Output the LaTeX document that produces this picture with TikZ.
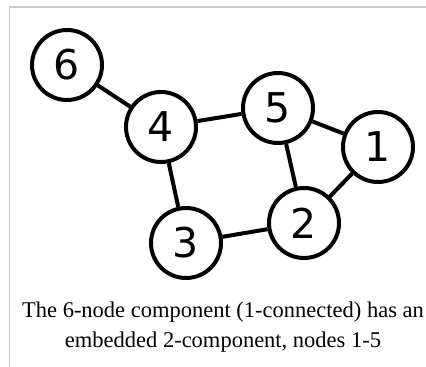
\documentclass[tikz,border=0pt]{standalone}
\usepackage{fontspec}
\setmainfont{Liberation Serif}
\newfontfamily\digitfont{DejaVu Sans}
\usepackage{xcolor}
\usepackage{tikz}
\definecolor{thumbline}{HTML}{C8CCD1}

\tikzset{
  vertex/.style={circle, draw=black, line width=4pt, fill=white,
    minimum size=70pt, inner sep=0pt, font=\digitfont\fontsize{41}{41}\selectfont},
  edge/.style={line width=4pt, black},
  caption/.style={font=\fontsize{22.5}{30}\selectfont, align=center}
}

\begin{document}
\begin{tikzpicture}[x=1pt, y=-1pt]
            \useasboundingbox (0,0) rectangle (426,367);
            \draw[thumbline, line width=1.2pt] (9.5,367) -- (9.5,7) -- (426,7);

            \node[vertex] (n6) at (67,65) {6};
            \node[vertex] (n4) at (161,127) {4};
            \node[vertex] (n5) at (278,108) {5};
            \node[vertex] (n1) at (378,147) {1};
            \node[vertex] (n2) at (304,223) {2};
            \node[vertex] (n3) at (186,243) {3};

            \draw[edge] (n6) -- (n4);
            \draw[edge] (n4) -- (n5);
            \draw[edge] (n5) -- (n1);
            \draw[edge] (n5) -- (n2);
            \draw[edge] (n1) -- (n2);
            \draw[edge] (n4) -- (n3);
            \draw[edge] (n3) -- (n2);

            % base anchor sits on the last line
            \node[caption, anchor=base] (cap) at (223,347)
              {The 6-node component (1-connected) has an\\embedded 2-component, nodes 1-5};
        \end{tikzpicture}
\end{document}
